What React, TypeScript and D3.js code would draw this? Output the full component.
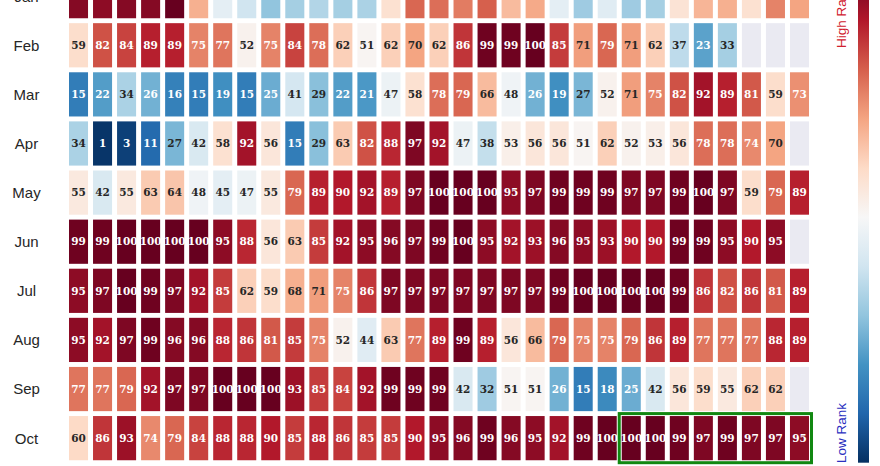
import React from 'react';
import * as d3 from 'd3';

// rows shown (Jan is cut by the top edge of the picture)
const months = ['Jan', 'Feb', 'Mar', 'Apr', 'May', 'Jun', 'Jul', 'Aug', 'Sep', 'Oct'];
const days = [1, 2, 3, 4, 5, 6, 7, 8, 9, 10, 11, 12, 13, 14, 15, 16, 17, 18, 19, 20, 21, 22, 23, 24, 25, 26, 27, 28, 29, 30, 31];

// daily rank values, one list per month (null = no day)
const jan = [96, 95, 96, 96, 100, 68, 45, 40, 30, 33, 35, 33, 34, 58, 79, 78, 76, 80, 66, 69, 45, 32, 44, 32, 33, 57, 67, 68, 58, 75, 70];
const feb = [59, 82, 84, 89, 89, 75, 77, 52, 75, 84, 78, 62, 51, 62, 70, 62, 86, 99, 99, 100, 85, 71, 79, 71, 62, 37, 23, 33, null, null, null];
const mar = [15, 22, 34, 26, 16, 15, 19, 15, 25, 41, 29, 22, 21, 47, 58, 78, 79, 66, 48, 26, 19, 27, 52, 71, 75, 82, 92, 89, 81, 59, 73];
const apr = [34, 1, 3, 11, 27, 42, 58, 92, 56, 15, 29, 63, 82, 88, 97, 92, 47, 38, 53, 56, 56, 51, 62, 52, 53, 56, 78, 78, 74, 70, null];
const may = [55, 42, 55, 63, 64, 48, 45, 47, 55, 79, 89, 90, 92, 89, 97, 100, 100, 100, 95, 97, 99, 99, 99, 97, 97, 99, 100, 97, 59, 79, 89];
const jun = [99, 99, 100, 100, 100, 100, 95, 88, 56, 63, 85, 92, 95, 96, 97, 99, 100, 95, 92, 93, 96, 95, 93, 90, 90, 99, 99, 95, 90, 95, null];
const jul = [95, 97, 100, 99, 97, 92, 85, 62, 59, 68, 71, 75, 86, 97, 97, 97, 97, 97, 97, 97, 99, 100, 100, 100, 100, 99, 86, 82, 86, 81, 89];
const aug = [95, 92, 97, 99, 96, 96, 88, 86, 81, 85, 75, 52, 44, 63, 77, 89, 99, 89, 56, 66, 79, 75, 75, 79, 86, 89, 77, 77, 77, 88, 89];
const sep = [77, 77, 79, 92, 97, 97, 100, 100, 100, 93, 85, 84, 92, 99, 99, 99, 42, 32, 51, 51, 26, 15, 18, 25, 42, 56, 59, 55, 62, 62, null];
const oct = [60, 86, 93, 74, 79, 84, 88, 88, 90, 85, 88, 86, 85, 85, 90, 95, 96, 99, 96, 95, 92, 99, 100, 100, 100, 99, 97, 99, 97, 97, 95];

const rows = [jan, feb, mar, apr, may, jun, jul, aug, sep, oct];

// highlighted stretch in October
const boxMonth = 'Oct';
const boxFrom = 24;
const boxTo = 31;

const W = 880;
const H = 466;

// matplotlib RdBu_r: linear through the 11 ColorBrewer colours
const rdbu = [...d3.schemeRdBu[11]].reverse();
const color = d3.scaleLinear<string>()
  .domain(d3.range(11).map(i => i * 10))
  .range(rdbu)
  .interpolate(d3.interpolateRgb);

// seaborn picks dark or white annotation text from luminance
function textColor(c: string) {
  const rgb = d3.rgb(c);
  const lin = (v: number) => {
    const s = v / 255;
    return s <= 0.03928 ? s / 12.92 : Math.pow((s + 0.055) / 1.055, 2.4);
  };
  const lum = 0.2126 * lin(rgb.r) + 0.7152 * lin(rgb.g) + 0.0722 * lin(rgb.b);
  return lum > 0.408 ? '#262626' : '#ffffff';
}

const App = () => {
  const x = d3.scaleBand<number>()
    .domain(days)
    .range([66.5, 811.5])
    .paddingInner(0.208)
    .paddingOuter(0.104);

  const y = d3.scaleBand<string>()
    .domain(months)
    .range([-28.4, 462.7])
    .paddingInner(0.1)
    .paddingOuter(0.05);

  const gapX = x.step() - x.bandwidth();
  const gapY = y.step() - y.bandwidth();

  // colour bar spans the heatmap height
  const cbY = d3.scaleLinear().domain([0, 100]).range(y.range() as [number, number]).range([462.7, -28.4]);
  const stops = d3.range(0, 101, 5);

  const bx0 = (x(boxFrom) as number) - gapX / 2;
  const bx1 = (x(boxTo) as number) + x.bandwidth() + gapX / 2;
  const by0 = (y(boxMonth) as number) - gapY / 2;
  const by1 = (y(boxMonth) as number) + y.bandwidth() + gapY / 2;

  return (
    <svg width={W} height={H} style={{ position: 'absolute', left: 0, top: 0, background: '#fff' }}>
      <defs>
        <linearGradient id="cbar" x1="0" y1="1" x2="0" y2="0">
          {stops.map(v => (
            <stop key={v} offset={`${v}%`} stopColor={color(v)} />
          ))}
        </linearGradient>
      </defs>

      {rows.map((vals, r) => {
        const m = months[r];
        const yy = y(m) as number;
        return (
          <g key={m}>
            {vals.map((v, i) => {
              const xx = x(days[i]) as number;
              const fill = v == null ? '#eaeaf2' : color(v);
              return (
                <g key={i}>
                  <rect x={xx} y={yy} width={x.bandwidth()} height={y.bandwidth()} fill={fill} />
                  {v != null && (
                    <text
                      x={xx + x.bandwidth() / 2}
                      y={yy + y.bandwidth() / 2}
                      dy="0.36em"
                      textAnchor="middle"
                      fontFamily="'DejaVu Serif', serif"
                      fontWeight="bold"
                      fontSize={10.5}
                      fill={textColor(fill)}
                    >
                      {v}
                    </text>
                  )}
                </g>
              );
            })}
            <text
              x={26.5}
              y={yy + y.bandwidth() / 2}
              dy="0.36em"
              textAnchor="middle"
              fontFamily="'Liberation Sans', Arial, sans-serif"
              fontSize={15}
              fill="#262626"
            >
              {m}
            </text>
          </g>
        );
      })}

      <rect
        x={bx0}
        y={by0}
        width={bx1 - bx0}
        height={by1 - by0}
        fill="none"
        stroke="#118811"
        strokeWidth={3}
      />

      <rect x={858} y={cbY(100)} width={11} height={cbY(0) - cbY(100)} fill="url(#cbar)" />

      <text
        transform={`translate(846,48) rotate(-90)`}
        textAnchor="start"
        fontFamily="'Liberation Sans', Arial, sans-serif"
        fontSize={13.5}
        fill="#d0202e"
      >
        High Rank
      </text>
      <text
        transform={`translate(846,463) rotate(-90)`}
        textAnchor="start"
        fontFamily="'Liberation Sans', Arial, sans-serif"
        fontSize={13.5}
        fill="#2a30c0"
      >
        Low Rank
      </text>
    </svg>
  );
};

export default App;
